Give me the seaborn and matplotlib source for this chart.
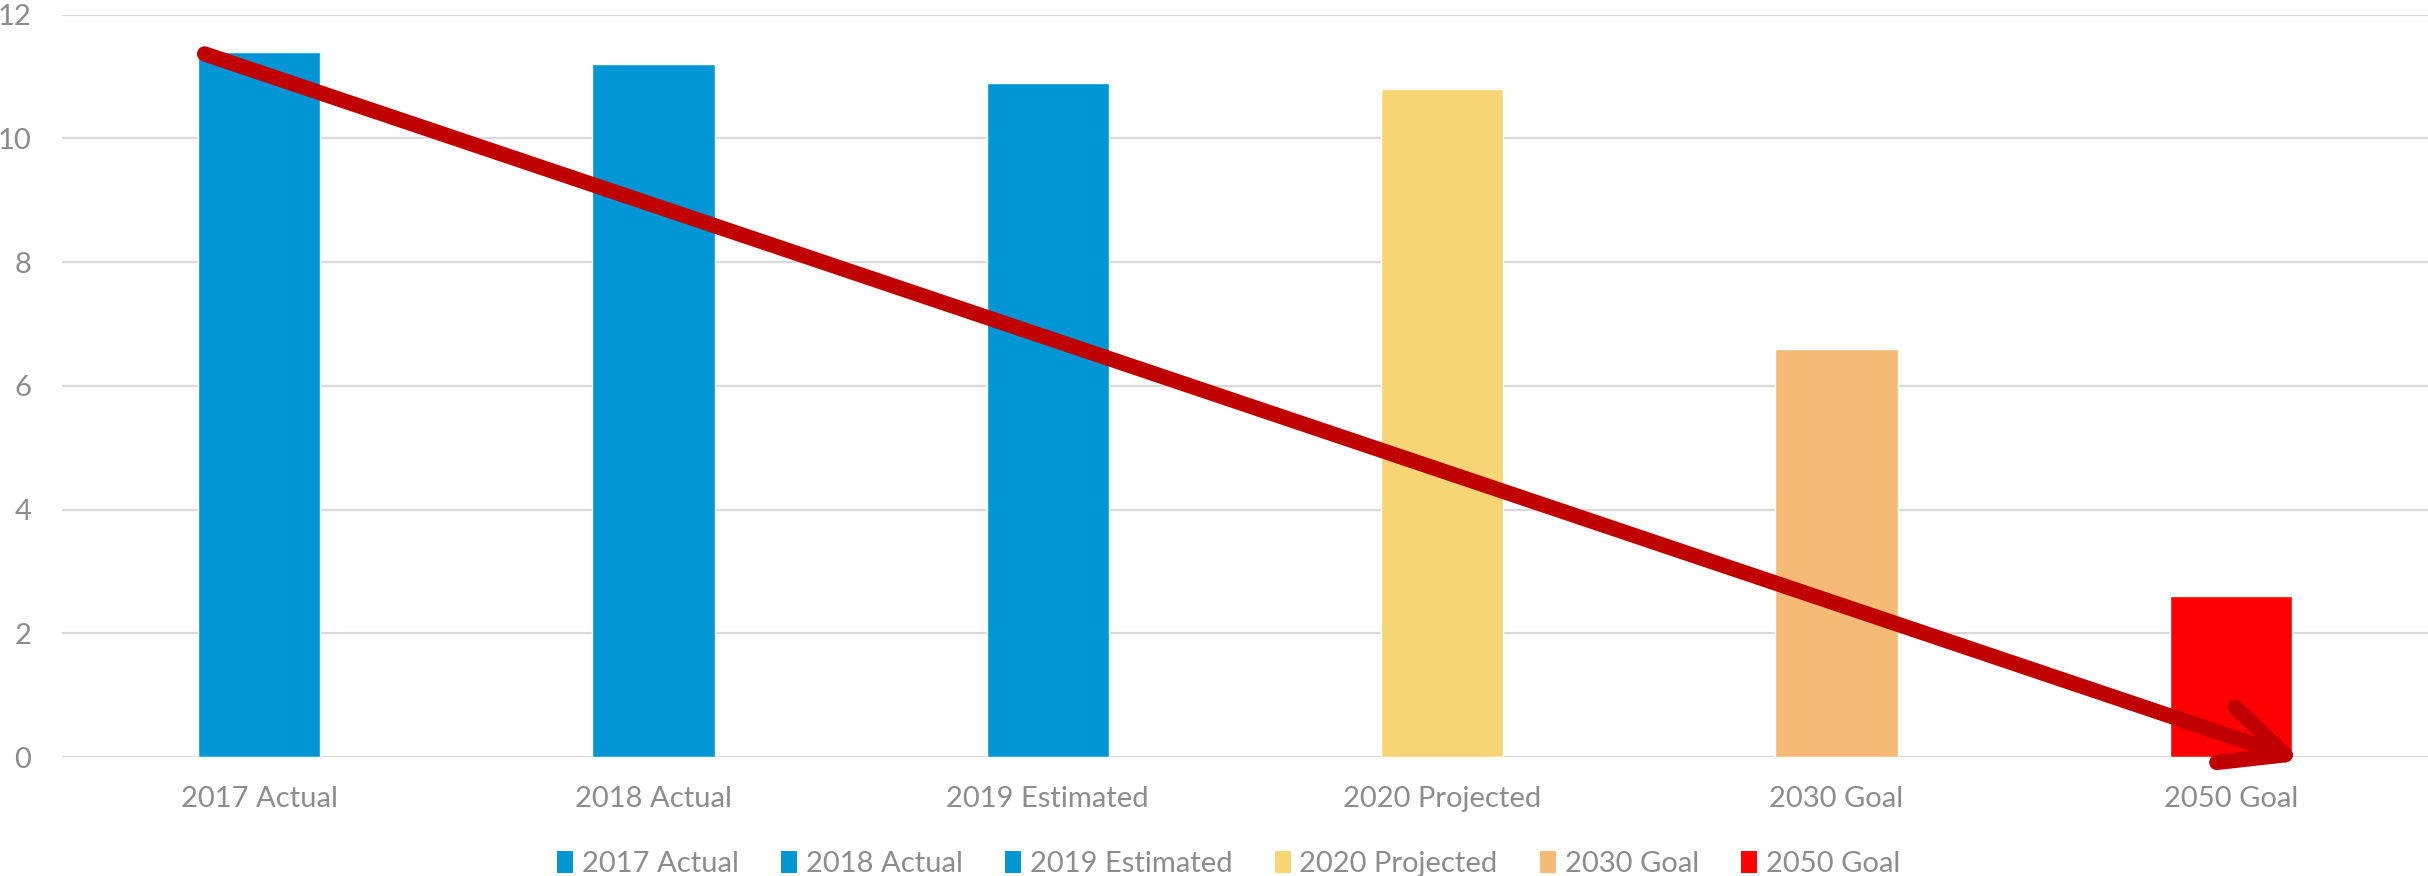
import matplotlib
matplotlib.use("Agg")
import matplotlib.pyplot as plt
from matplotlib.patches import FancyArrowPatch, Patch
from matplotlib.transforms import IdentityTransform
import seaborn as sns
import pandas as pd
import numpy as np

categories = ["2017 Actual", "2018 Actual", "2019 Estimated",
              "2020 Projected", "2030 Goal", "2050 Goal"]
values = [11.4, 11.2, 10.9, 10.8, 6.6, 2.6]
colors = ["#0096D6", "#0096D6", "#0096D6", "#F7D575", "#F6BA77", "#FF0000"]
yticks = [0, 2, 4, 6, 8, 10, 12]

sns.set_theme(style="white")
plt.rcParams["font.family"] = ["Lato", "DejaVu Sans"]

text_gray = "#8C8C8C"
grid_gray = "#D9D9D9"
bar_width = 0.31

df = pd.DataFrame({"category": categories, "value": values})

fig = plt.figure(figsize=(24.28, 8.76), dpi=100)
ax = fig.add_axes([0.0255, 0.1358, 0.9745, 0.8476])

sns.barplot(data=df, x="category", y="value", hue="category",
            palette=colors, width=bar_width, dodge=False, legend=False,
            saturation=1, ax=ax, zorder=2)

ax.set_ylim(0, 12)
ax.set_xlim(-0.5, len(categories) - 0.5)
ax.set_yticks(yticks)
ax.set_yticklabels([str(t) for t in yticks])
ax.set_xlabel("")
ax.set_ylabel("")

for y in yticks:
    ax.axhline(y, color=grid_gray, lw=1.6, zorder=0)

for s in ax.spines.values():
    s.set_visible(False)

ax.tick_params(axis="both", length=0, labelcolor=text_gray, labelsize=21)
ax.tick_params(axis="x", pad=21)
ax.tick_params(axis="y", pad=22)

# Downward trend arrow from the first bar's top to the base of the last bar.
# The open arrow head is pulled back by matplotlib to fit the stroke width,
# so the tip is pushed forward a few pixels along the shaft in display space.
start = (-bar_width / 2, values[0])
end = (len(categories) - 1 + bar_width / 2, 0)
p0 = ax.transData.transform(start)
p1 = ax.transData.transform(end)
direction = (p1 - p0) / np.hypot(*(p1 - p0))
p1 = p1 + direction * 11
arrow = FancyArrowPatch(tuple(p0), tuple(p1), transform=IdentityTransform(),
                        arrowstyle="->,head_length=45,head_width=21",
                        mutation_scale=1, color="#C00000", lw=11,
                        capstyle="round", joinstyle="round",
                        shrinkA=5, shrinkB=0, zorder=5, clip_on=False)
ax.add_artist(arrow)

handles = [Patch(facecolor=c, edgecolor="none") for c in colors]
fig.legend(handles, categories, loc="center", bbox_to_anchor=(0.506, 0.014),
           ncol=len(categories), frameon=False, fontsize=21,
           labelcolor=text_gray, handlelength=0.55, handleheight=0.8,
           handletextpad=0.3, columnspacing=1.45)

fig.savefig("out.png", dpi=100)
